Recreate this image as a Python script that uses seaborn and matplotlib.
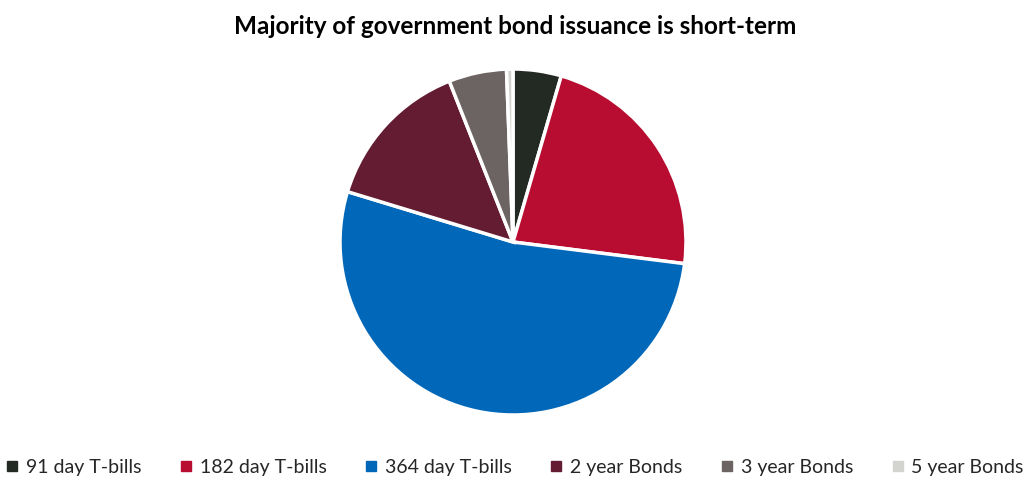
import matplotlib
matplotlib.use("Agg")
import matplotlib.pyplot as plt
import seaborn as sns
from matplotlib.lines import Line2D

categories = ["91 day T-bills", "182 day T-bills", "364 day T-bills",
              "2 year Bonds", "3 year Bonds", "5 year Bonds"]
values = [4.5, 22.5, 52.7, 14.3, 5.4, 0.6]
colors = ["#232923", "#b80d30", "#0067b9", "#631c31", "#6c6462", "#d3d3cf"]

sns.set_theme(style="white")
plt.rcParams['font.family'] = ['Lato', 'DejaVu Sans']

fig = plt.figure(figsize=(10.30, 4.81), dpi=100)
ax = fig.add_axes([(513 - 173) / 1030, (481 - 416) / 481, 346 / 1030, 346 / 481])
ax.pie(values, colors=colors, startangle=90, counterclock=False,
       wedgeprops=dict(edgecolor="white", linewidth=2.5))
ax.set_xlim(-1, 1)
ax.set_ylim(-1, 1)
ax.set_aspect("equal")

fig.text(0.5, 1 - 26 / 481, "Majority of government bond issuance is short-term",
         ha="center", va="center", fontsize=17.5, fontweight="bold", color="black")

handles = [Line2D([0], [0], marker="s", linestyle="", markersize=6.5,
                  markerfacecolor=c, markeredgecolor=c) for c in colors]
fig.legend(handles, categories, loc="center", bbox_to_anchor=(0.5, 1 - 468 / 481),
           ncol=6, frameon=False, fontsize=14, handlelength=0.6, handletextpad=0.4,
           columnspacing=2.0)

fig.savefig("out.png", dpi=100)
